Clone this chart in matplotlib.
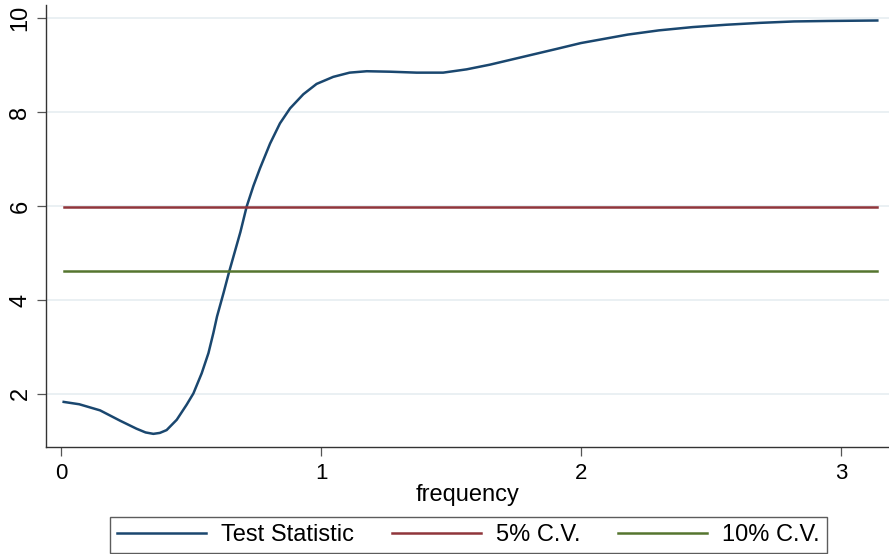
import matplotlib
matplotlib.use("Agg")
from matplotlib import pyplot as plt

plt.rcParams['font.family'] = ['Liberation Sans', 'DejaVu Sans']

# test statistic over frequency
freq = [0.01, 0.07, 0.15, 0.227, 0.29, 0.325, 0.355, 0.38, 0.406, 0.445,
        0.483, 0.509, 0.541, 0.567, 0.586, 0.60, 0.625, 0.646, 0.668, 0.69,
        0.714, 0.74, 0.765, 0.804, 0.842, 0.881, 0.932, 0.983, 1.047, 1.11,
        1.176, 1.265, 1.368, 1.47, 1.56, 1.65, 1.78, 1.91, 2.0, 2.05,
        2.18, 2.30, 2.43, 2.56, 2.69, 2.82, 2.95, 3.14]
stat = [1.83, 1.78, 1.65, 1.43, 1.26, 1.18, 1.15, 1.17, 1.23, 1.45,
        1.77, 2.01, 2.44, 2.87, 3.30, 3.65, 4.15, 4.59, 5.02, 5.45,
        5.99, 6.43, 6.80, 7.33, 7.76, 8.08, 8.38, 8.60, 8.75, 8.84,
        8.87, 8.86, 8.84, 8.84, 8.91, 9.01, 9.18, 9.35, 9.47, 9.52,
        9.65, 9.74, 9.81, 9.86, 9.90, 9.93, 9.94, 9.95]
cv5 = 5.99
cv10 = 4.61

labels = ['Test Statistic', '5% C.V.', '10% C.V.']
xticks = [0, 1, 2, 3]
yticks = [2, 4, 6, 8, 10]

W, H = 889, 554
fig = plt.figure(figsize=(W / 100, H / 100), dpi=100)
ax = fig.add_axes([46 / W, 1 - 447 / H, (889 - 46) / W, (447 - 5) / H])

ax.plot(freq, stat, color='#1A476F', lw=1.8, label=labels[0],
        solid_joinstyle='round')
ax.plot(freq, [cv5] * len(freq), color='#90353B', lw=1.8, label=labels[1])
ax.plot(freq, [cv10] * len(freq), color='#55752F', lw=1.8, label=labels[2])

ax.set_xlim(-0.058, 3.185)
ax.set_ylim(0.87, 10.28)
ax.set_xticks(xticks)
ax.set_yticks(yticks)
ax.yaxis.grid(True, color='#E8EFF2', lw=1.3)
ax.set_axisbelow(True)

for s in ['top', 'right']:
    ax.spines[s].set_visible(False)
for s in ['left', 'bottom']:
    ax.spines[s].set_color('#333333')
    ax.spines[s].set_linewidth(1.0)

ax.tick_params(direction='out', length=6.5, width=0.9, color='#555555',
               labelsize=16, pad=5)
ax.tick_params(axis='y', labelrotation=90, labelsize=17, pad=4)
for t in ax.get_yticklabels():
    t.set_va('center')
ax.set_xlabel('frequency', fontsize=17, labelpad=0)

leg = fig.legend(loc='lower center', bbox_to_anchor=(468.5 / W, 0.002),
                 ncol=3, fontsize=17, frameon=True, fancybox=False,
                 handlelength=3.75, handletextpad=0.65, columnspacing=1.6,
                 borderpad=0.3, borderaxespad=0)
leg.get_frame().set_edgecolor('#333333')
leg.get_frame().set_linewidth(1.0)

fig.savefig('out.png', dpi=100)
